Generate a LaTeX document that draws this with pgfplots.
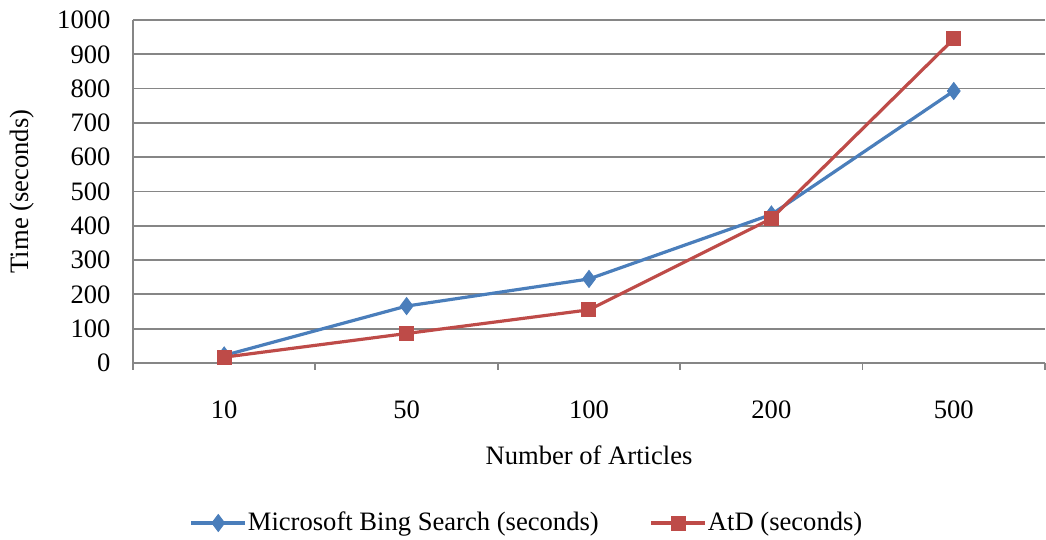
\documentclass[border=0pt]{standalone}
\usepackage{fontspec}
\setmainfont{Liberation Serif}
\usepackage{pgfplots}
\pgfplotsset{compat=1.18}
\definecolor{bingblue}{HTML}{4A7EBB}
\definecolor{atdred}{HTML}{BE4B48}
\definecolor{gridgray}{HTML}{868686}
\begin{document}
\begin{tikzpicture}
\useasboundingbox (-66.5pt,-88.5pt) rectangle (456.5pt,181.5pt);
\begin{axis}[
  scale only axis,
  width=456pt, height=171.5pt,
  font=\fontsize{13.3}{15}\selectfont,
  /pgf/number format/assume math mode=true,
  /pgf/number format/1000 sep={},
  xmin=-0.5, xmax=4.5,
  ymin=0, ymax=1000,
  ytick={0,100,...,1000},
  xtick={-0.5,0.5,...,4.5},
  x tick label as interval,
  xticklabels={10,50,100,200,500},
  axis x line=bottom, axis y line=left,
  axis line style={-, draw=gridgray, line width=0.9pt},
  ymajorgrids,
  grid style={draw=gridgray, line width=0.9pt},
  y tick style={draw=none},
  x tick style={draw=gridgray, line width=0.9pt},
  xtick align=outside,
  major tick length=3.5pt,
  yticklabel style={xshift=-6pt},
  xticklabel style={yshift=-12pt},
  xlabel={Number of Articles},
  ylabel={Time (seconds)},
  xlabel style={at={(axis description cs:0.5,-0.268)}, anchor=center},
  ylabel style={at={(axis description cs:-0.1217,0.5)}, anchor=center},
  legend columns=2,
  legend style={draw=none, fill=none, at={(axis description cs:0.4315,-0.4665)}, anchor=center,
    nodes={inner xsep=0.5pt},
    /tikz/every even column/.append style={column sep=25pt}},
  legend image code/.code={
    \draw[#1, mark=none] (0pt,0pt) -- (27pt,0pt);
    \draw[#1, only marks] plot coordinates {(13.5pt,0pt)};
  },
]
\addplot[color=bingblue, line width=1.6pt, mark=diamond*, mark size=4.2pt, mark options={solid, fill=bingblue, line width=0.5pt}]
  coordinates {(0,22) (1,166) (2,245) (3,433) (4,793)};
\addlegendentry{Microsoft Bing Search (seconds)}
\addplot[color=atdred, line width=1.6pt, mark=square*, mark size=3.5pt, mark options={solid, fill=atdred, line width=0.5pt}]
  coordinates {(0,17) (1,86) (2,155) (3,421) (4,945)};
\addlegendentry{AtD (seconds)}
\end{axis}
\end{tikzpicture}
\end{document}
